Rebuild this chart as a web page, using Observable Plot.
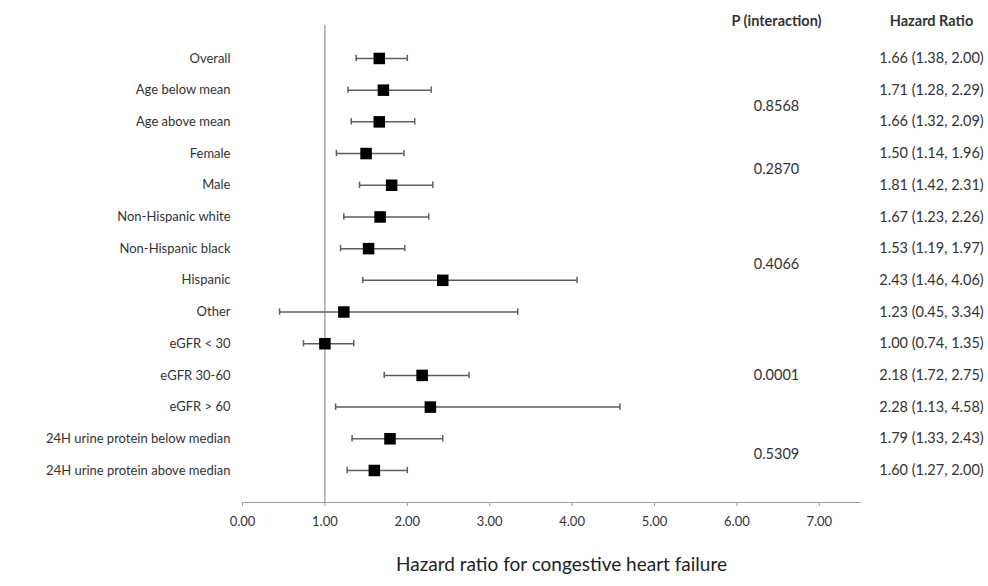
<!DOCTYPE html>
<html>
<head>
<meta charset="utf-8">
<script src="https://cdn.jsdelivr.net/npm/d3@7"></script>
<script src="https://cdn.jsdelivr.net/npm/@observablehq/plot@0.6"></script>
<style>
  html, body { margin: 0; padding: 0; background: #fff; }
  #chart svg { display: block; }
</style>
</head>
<body>
<div id="chart"></div>
<script>
const labels = [
  "Overall", "Age below mean", "Age above mean", "Female", "Male",
  "Non-Hispanic white", "Non-Hispanic black", "Hispanic", "Other",
  "eGFR < 30", "eGFR 30-60", "eGFR > 60",
  "24H urine protein below median", "24H urine protein above median"
];
const hr = [1.66, 1.71, 1.66, 1.50, 1.81, 1.67, 1.53, 2.43, 1.23, 1.00, 2.18, 2.28, 1.79, 1.60];
const lo = [1.38, 1.28, 1.32, 1.14, 1.42, 1.23, 1.19, 1.46, 0.45, 0.74, 1.72, 1.13, 1.33, 1.27];
const hi = [2.00, 2.29, 2.09, 1.96, 2.31, 2.26, 1.97, 4.06, 3.34, 1.35, 2.75, 4.58, 2.43, 2.00];
const pValues = ["0.8568", "0.2870", "0.4066", "0.0001", "0.5309"];
const pRows = [[1, 2], [3, 4], [5, 6, 7, 8], [9, 10, 11], [12, 13]];
const xTicks = [0, 1, 2, 3, 4, 5, 6, 7];
const xLabel = "Hazard ratio for congestive heart failure";

const rows = labels.map((label, i) => ({
  i, label, hr: hr[i], lo: lo[i], hi: hi[i],
  text: `${hr[i].toFixed(2)} (${lo[i].toFixed(2)}, ${hi[i].toFixed(2)})`
}));
const pData = pValues.map((p, k) => ({p, i: d3.mean(pRows[k])}));
const cap = 0.1;

const textColor = "#333";
const barColor = "#5e5e5e";
const font = "Lato, 'Open Sans', sans-serif";

const chart = Plot.plot({
  width: 988,
  height: 586,
  marginLeft: 242,
  marginRight: 128,
  marginTop: 25,
  marginBottom: 84,
  style: {fontFamily: font, color: textColor, background: "#fff"},
  x: {domain: [0, 7.5]},
  y: {domain: [-1.04, 14.01], reverse: true},
  marks: [
    Plot.ruleX([1], {stroke: "#a8a8a8", strokeWidth: 1.5}),
    Plot.frame({anchor: "bottom", stroke: "#a0a0a0", strokeWidth: 1.2}),
    Plot.axisX({
      ticks: xTicks, tickFormat: d3.format(".2f"), tickSize: 4, tickPadding: 10,
      fontSize: 13, label: null, stroke: "#a0a0a0", fill: textColor
    }),
    Plot.axisY({
      ticks: rows.map(d => d.i), tickFormat: i => labels[i], tickSize: 0,
      tickPadding: 12, fontSize: 13, label: null, fill: textColor
    }),
    Plot.ruleY(rows, {y: "i", x1: "lo", x2: "hi", stroke: barColor, strokeWidth: 1.5}),
    Plot.ruleX(rows, {x: "lo", y1: d => d.i - cap, y2: d => d.i + cap, stroke: barColor, strokeWidth: 1.5}),
    Plot.ruleX(rows, {x: "hi", y1: d => d.i - cap, y2: d => d.i + cap, stroke: barColor, strokeWidth: 1.5}),
    Plot.dot(rows, {x: "hr", y: "i", symbol: "square", r: 6.5, fill: "#000", stroke: "none"}),
    Plot.text(rows, {y: "i", text: "text", frameAnchor: "right", textAnchor: "middle", dx: 71, fontSize: 14.5, fill: textColor}),
    Plot.text(pData, {y: "i", text: "p", frameAnchor: "right", textAnchor: "middle", dx: -84, fontSize: 14.5, fill: textColor}),
    Plot.text(["P (interaction)"], {frameAnchor: "top-right", textAnchor: "middle", dx: -84, dy: -10, fontSize: 14.5, fontWeight: "bold", fill: textColor}),
    Plot.text(["Hazard Ratio"], {frameAnchor: "top-right", textAnchor: "middle", dx: 71, dy: -10, fontSize: 14.5, fontWeight: "bold", fill: textColor}),
    Plot.text([xLabel], {frameAnchor: "bottom", dx: 10, dy: 68, fontSize: 19, fill: "#222"})
  ]
});
document.getElementById("chart").appendChild(chart);
</script>
</body>
</html>
